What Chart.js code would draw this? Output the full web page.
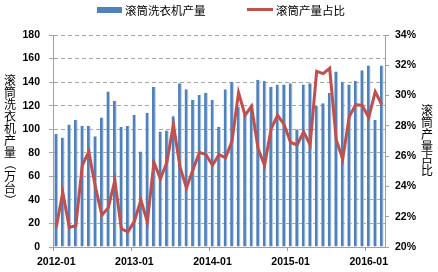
<!DOCTYPE html>
<html>
<head>
<meta charset="utf-8">
<script src="https://cdn.jsdelivr.net/npm/chart.js@4.4.0/dist/chart.umd.min.js"></script>
<style>
  html, body { margin:0; padding:0; background:#fff; }
  #wrap { position:relative; width:438px; height:272px; font-family:"Noto Sans CJK SC", sans-serif; color:#000; }
  #chart { position:absolute; left:0; top:0; }
  .legend-text { position:absolute; top:2px; font-size:11.5px; line-height:16px; white-space:nowrap; }
  .swatch { position:absolute; }
  .vtitle { position:absolute; width:14px; font-size:12px; line-height:12px; text-align:center; }
  .vtitle span { display:block; height:12px; }
  .vtitle span.rot { transform:rotate(90deg); }
</style>
</head>
<body>
<div id="wrap">
  <canvas id="chart" width="438" height="272"></canvas>
  <span class="swatch" style="left:97px;top:7px;width:25px;height:6px;background:#4F81BD"></span>
  <span class="legend-text" style="left:125px">滚筒洗衣机产量</span>
  <span class="swatch" style="left:247px;top:8px;width:26px;height:3px;background:#C0504D"></span>
  <span class="legend-text" style="left:276px">滚筒产量占比</span>
  <div class="vtitle" id="title-left" style="left:3px;top:74px"></div>
  <div class="vtitle" id="title-right" style="left:420px;top:104px"></div>
</div>
<script>
// monthly categories 2012-01 .. 2016-03
const months = [
  '2012-01','2012-02','2012-03','2012-04','2012-05','2012-06','2012-07','2012-08','2012-09','2012-10','2012-11','2012-12',
  '2013-01','2013-02','2013-03','2013-04','2013-05','2013-06','2013-07','2013-08','2013-09','2013-10','2013-11','2013-12',
  '2014-01','2014-02','2014-03','2014-04','2014-05','2014-06','2014-07','2014-08','2014-09','2014-10','2014-11','2014-12',
  '2015-01','2015-02','2015-03','2015-04','2015-05','2015-06','2015-07','2015-08','2015-09','2015-10','2015-11','2015-12',
  '2016-01','2016-02','2016-03'
];
// 滚筒洗衣机产量 (万台)
const production = [
  96, 93, 104, 108, 103, 103, 94, 110, 132, 124, 102, 103,
  112, 81, 114, 136, 98, 99, 111, 139, 134, 125, 129, 131,
  125, 102, 134, 140, 119, 112, 121, 142, 141, 136, 138, 138,
  139, 100, 138, 139, 120, 122, 131, 149, 140, 138, 141, 150,
  154, 108, 154
];
// 滚筒产量占比 (%)
const share = [
  21.3, 23.6, 21.3, 21.4, 25.4, 26.3, 24.0, 22.1, 22.6, 24.4, 21.2, 21.0,
  21.7, 23.1, 21.65, 25.6, 24.5, 25.6, 28.1, 25.3, 23.9, 25.1, 26.25, 26.1,
  25.4, 26.1, 25.9, 27.0, 30.2, 28.7, 29.3, 26.5, 25.4, 27.8, 28.7, 28.1,
  26.9, 26.75, 27.6, 26.75, 31.6, 31.45, 31.8, 27.1, 25.8, 28.6, 29.4, 29.35,
  28.55, 30.25, 29.4
];
const leftTicks = { min: 0, max: 180, step: 20 };
const rightTicks = { min: 20, max: 34, step: 2 };
const leftTitle = '滚筒洗衣机产量（万台）';
const rightTitle = '滚筒产量占比';

// stacked upright characters, brackets turned like in vertical text
function stackTitle(id, text){
  const el = document.getElementById(id);
  el.innerHTML = Array.from(text).map(c =>
    `<span class="${'（）'.includes(c) ? 'rot' : ''}">${c}</span>`).join('');
}
stackTitle('title-left', leftTitle);
stackTitle('title-right', rightTitle);

const axisGray = '#a0a0a0';
const tickFont = { family: '"Liberation Sans", Arial, sans-serif', size: 10.5, weight: 'bold' };

new Chart(document.getElementById('chart'), {
  type: 'bar',
  data: {
    labels: months,
    datasets: [
      { type: 'bar', label: '滚筒洗衣机产量', data: production, backgroundColor: '#4F81BD',
        borderColor: '#B3C9E4', borderWidth: { left: 0, top: 0, bottom: 0, right: 1 }, borderSkipped: false,
        yAxisID: 'y', order: 2, barPercentage: 0.58, categoryPercentage: 1 },
      { type: 'line', label: '滚筒产量占比', data: share, borderColor: '#C0504D', borderWidth: 3,
        pointRadius: 0, tension: 0, yAxisID: 'y1', order: 1 }
    ]
  },
  options: {
    responsive: false,
    animation: false,
    layout: { padding: { top: 35, left: 0, right: 0, bottom: 0 } },
    plugins: { legend: { display: false }, tooltip: { enabled: false } },
    scales: {
      x: {
        grid: { drawOnChartArea: false, tickLength: 4,
          color: (ctx) => ctx.index % 12 === 0 ? axisGray : 'rgba(0,0,0,0)' },
        border: { color: axisGray },
        ticks: { autoSkip: false, maxRotation: 0, padding: 5, color: '#000', font: tickFont,
          callback: (v, i) => i % 12 === 0 ? months[i] : '' },
        afterFit: (s) => { s.height = 25; }
      },
      y: {
        position: 'left', min: leftTicks.min, max: leftTicks.max,
        grid: { color: '#a6a6a6', tickLength: 4 },
        border: { color: axisGray, dash: [4, 3] },
        ticks: { stepSize: leftTicks.step, padding: 9, color: '#000', font: tickFont },
        afterFit: (s) => { s.width = 53; }
      },
      y1: {
        position: 'right', min: rightTicks.min, max: rightTicks.max,
        grid: { drawOnChartArea: false, color: axisGray, tickLength: 4 },
        border: { color: axisGray },
        ticks: { stepSize: rightTicks.step, padding: 6, color: '#000', font: tickFont,
          callback: (v) => v + '%' },
        afterFit: (s) => { s.width = 53; }
      }
    }
  }
});
</script>
</body>
</html>
